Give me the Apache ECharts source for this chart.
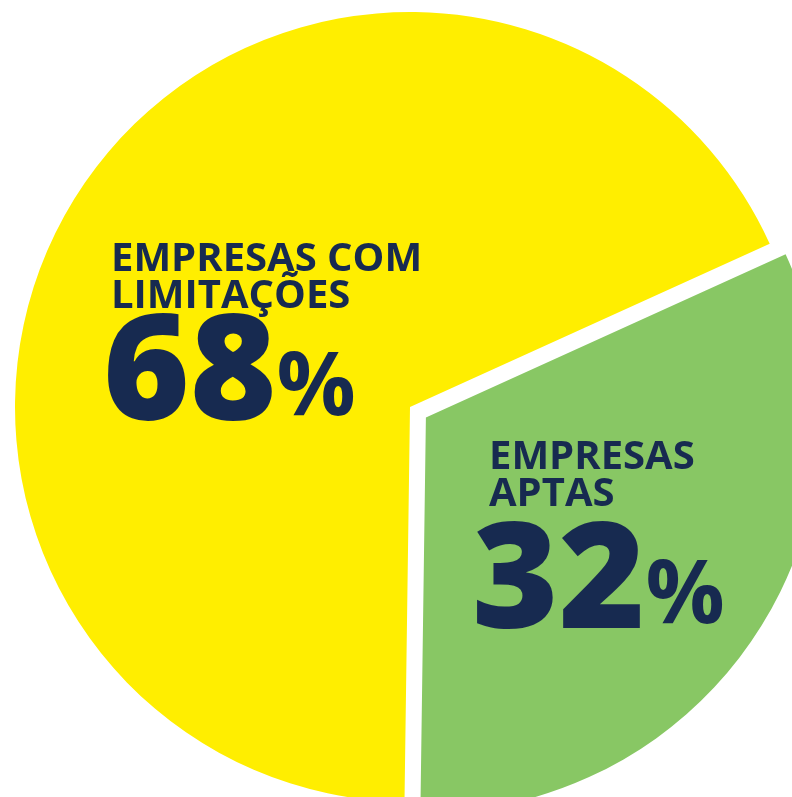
<!DOCTYPE html>
<html lang="pt">

<head>
  <meta charset="UTF-8">
  <title>Empresas aptas</title>
  <style>
    html, body { margin: 0; padding: 0; background: #fff; }
    #main { width: 792px; height: 797px; }
  </style>
</head>

<body>
<div id="main"></div>
<script src="https://cdn.jsdelivr.net/npm/echarts@6/dist/echarts.min.js"></script>
<script>
  // dados
  const names = ['EMPRESAS\nAPTAS', 'EMPRESAS COM\nLIMITAÇÕES'];
  const values = [32, 68];
  const colors = ['#88c764', '#ffee00'];

  // posição dos textos de cada fatia (canto superior esquerdo)
  const titlePos = [[489, 438], [111, 240]];
  const numberPos = [[472, 512], [103, 304]];

  const navy = '#172a50';
  const font = '"Open Sans", sans-serif';

  const titleRich = {
    t: { fontFamily: font, fontWeight: 'bold', fontSize: 40, lineHeight: 37, fill: navy }
  };
  const numberRich = {
    n: { fontFamily: font, fontWeight: 800, fontSize: 148, fill: navy, verticalAlign: 'bottom' },
    p: { fontFamily: font, fontWeight: 'bold', fontSize: 88, height: 124, fill: navy, verticalAlign: 'bottom' }
  };

  let chart = echarts.init(document.getElementById('main'), null, { renderer: 'canvas' });

  let graphics = [];
  names.forEach((n, i) => {
    graphics.push({
      type: 'text', left: titlePos[i][0], top: titlePos[i][1], z: 100,
      style: { text: '{t|' + n.split('\n').join('}\n{t|') + '}', rich: titleRich, fill: navy }
    });
    graphics.push({
      type: 'text', left: numberPos[i][0], top: numberPos[i][1], z: 100,
      style: { text: '{n|' + values[i] + '}{p|%}', rich: numberRich, fill: navy }
    });
  });

  let option = {
    animation: false,
    graphic: graphics,
    series: [{
      type: 'pie',
      center: [410, 407],
      radius: 395,
      startAngle: 24.4,
      clockwise: true,
      selectedMode: 'single',
      selectedOffset: 19,
      emphasis: { disabled: true },
      label: { show: false },
      labelLine: { show: false },
      data: names.map((n, i) => ({
        name: n,
        value: values[i],
        selected: i === 0,
        itemStyle: { color: colors[i] }
      }))
    }]
  };
  chart.setOption(option);
</script>
</body>

</html>
